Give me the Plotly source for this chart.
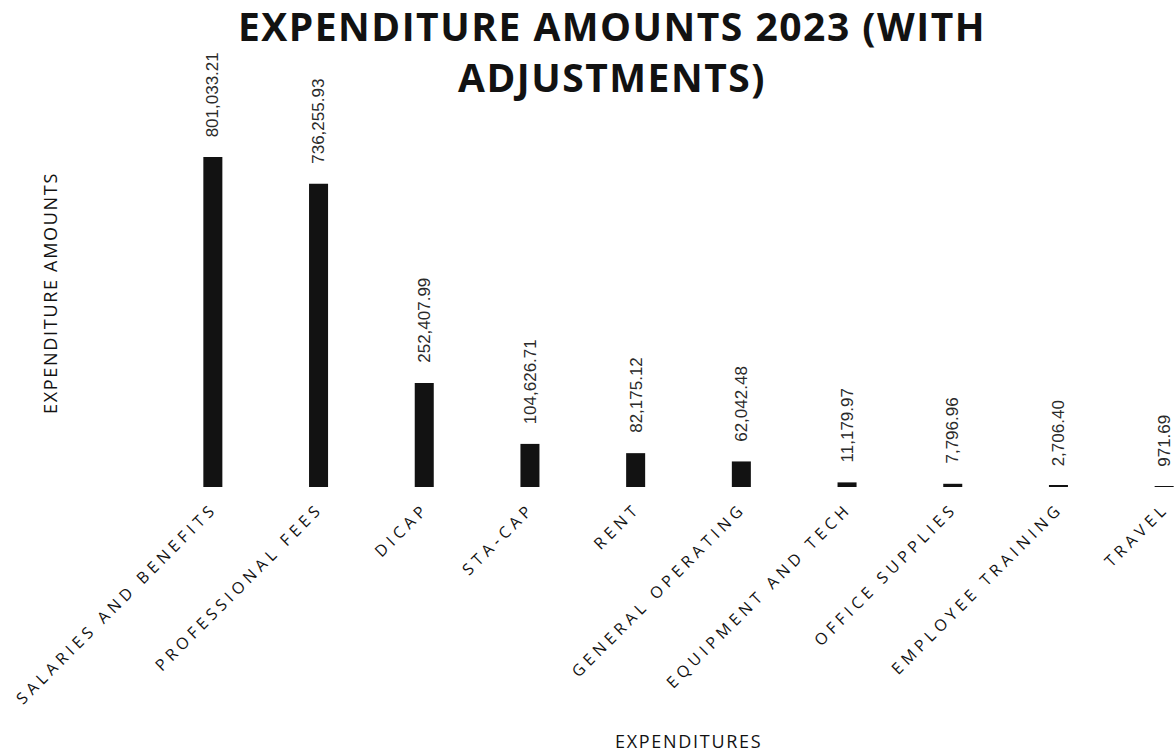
import plotly.graph_objects as go

# Expenditure categories and their 2023 amounts (with adjustments)
categories = [
    "SALARIES AND BENEFITS",
    "PROFESSIONAL FEES",
    "DICAP",
    "STA-CAP",
    "RENT",
    "GENERAL OPERATING",
    "EQUIPMENT AND TECH",
    "OFFICE SUPPLIES",
    "EMPLOYEE TRAINING",
    "TRAVEL",
]
amounts = [801033.21, 736255.93, 252407.99, 104626.71, 82175.12,
           62042.48, 11179.97, 7796.96, 2706.40, 971.69]

title_lines = ["EXPENDITURE AMOUNTS 2023 (WITH", "ADJUSTMENTS)"]
x_title = "EXPENDITURES"
y_title = "EXPENDITURE AMOUNTS"

W, H = 1175, 753
ML, MR, MT, MB = 160, 0, 100, 266
plot_w = W - ML - MR
plot_h = H - MT - MB


def spaced(s, px):
    return f'<span style="letter-spacing:{px}px">{s}</span>'


ink = "#121212"

fig = go.Figure(
    go.Bar(
        x=categories,
        y=amounts,
        width=0.18,
        marker=dict(color=ink, line=dict(width=0)),
        hoverinfo="skip",
    )
)

# value labels above each bar, rotated
for cat, v in zip(categories, amounts):
    fig.add_annotation(
        x=cat, y=v, text=f"{v:,.2f}", textangle=-90,
        showarrow=False, yanchor="bottom", yshift=18,
        font=dict(family="Liberation Sans", size=17, color="#2a2a2a"),
    )

# axis titles
fig.add_annotation(
    xref="paper", yref="paper",
    x=(688 - ML) / plot_w, y=(MT + plot_h - 741) / plot_h,
    text=spaced(x_title, 1.7), showarrow=False,
    xanchor="center", yanchor="middle",
    font=dict(family="Open Sans", size=18, color=ink),
)
fig.add_annotation(
    xref="paper", yref="paper",
    x=(50 - ML) / plot_w, y=(MT + plot_h - 293) / plot_h,
    text=spaced(y_title, 1.7), showarrow=False, textangle=-90,
    xanchor="center", yanchor="middle",
    font=dict(family="Open Sans", size=18, color=ink),
)

fig.update_layout(
    width=W, height=H,
    margin=dict(l=ML, r=MR, t=MT, b=MB, autoexpand=False),
    paper_bgcolor="white", plot_bgcolor="white",
    showlegend=False,
    title=dict(
        text=spaced(title_lines[0], 1.5) + "<br>" + spaced(title_lines[1], 1.5),
        x=612 / W, xref="container", xanchor="center",
        y=1 - 41 / H, yref="container", yanchor="top",
        font=dict(family="Open Sans", size=39, color=ink, weight="bold"),
    ),
    xaxis=dict(
        range=[-0.5, -0.5 + plot_w / 105.7],
        tickmode="array",
        tickvals=categories,
        ticktext=[spaced(c, 4.5) for c in categories],
        tickangle=-45,
        ticklabelstandoff=8,
        tickfont=dict(family="Open Sans", size=16, color=ink),
        showline=False, showgrid=False, zeroline=False, ticks="",
    ),
    yaxis=dict(
        range=[0, 801033.21 * plot_h / 330],
        showticklabels=False, showline=False, showgrid=False,
        zeroline=False, ticks="",
    ),
)

fig.write_html("out.html")
